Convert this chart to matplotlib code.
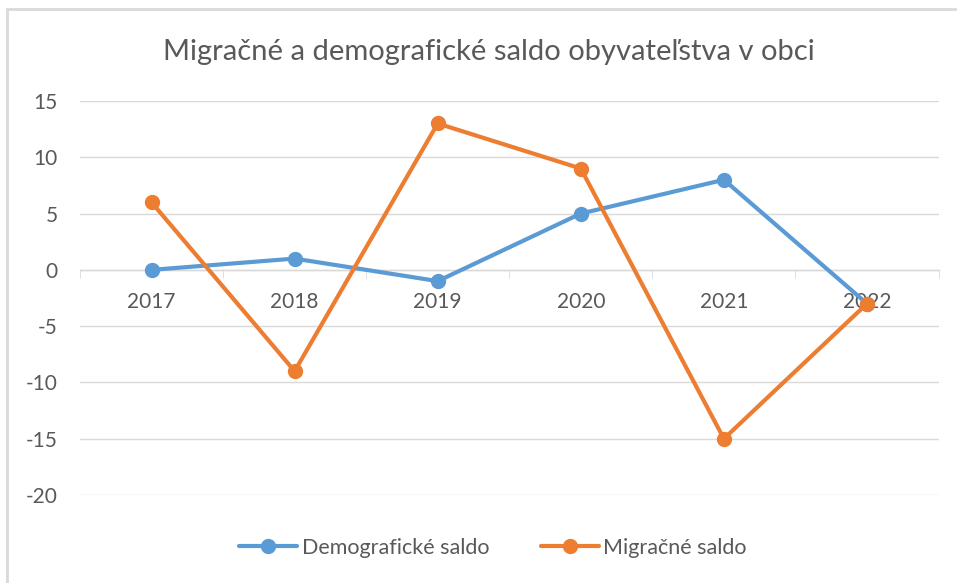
import matplotlib.pyplot as plt
from matplotlib.patches import Rectangle

plt.rcParams['font.family'] = ['Lato', 'DejaVu Sans']
plt.rcParams['axes.unicode_minus'] = False

years = ['2017', '2018', '2019', '2020', '2021', '2022']
demograficke = [0, 1, -1, 5, 8, -3]
migracne = [6, -9, 13, 9, -15, -3]
yticks = [-20, -15, -10, -5, 0, 5, 10, 15]

text_col = '#595959'
grid_col = '#d9d9d9'
blue = '#5B9BD5'
orange = '#ED7D31'

fig = plt.figure(figsize=(9.57, 5.83), dpi=100)
# outer chart frame (only left/top visible in the crop)
fig.patches.append(Rectangle((7 / 957, -0.1), 1.2, 1 - 9 / 583 + 0.1,
                             transform=fig.transFigure, fill=False,
                             edgecolor='#d9d9d9', linewidth=2))

ax = fig.add_axes([0.0836, 0.1509, 0.8971, 0.6759])
x = list(range(len(years)))

ax.plot(x, demograficke, color=blue, linewidth=3, marker='o', markersize=10,
        label='Demografické saldo', zorder=3, solid_capstyle='round')
ax.plot(x, migracne, color=orange, linewidth=3, marker='o', markersize=10,
        label='Migračné saldo', zorder=4, solid_capstyle='round')

ax.set_xlim(-0.5, len(years) - 0.5)
ax.set_ylim(-20, 15)
ax.set_yticks(yticks)
ax.yaxis.grid(True, color=grid_col, linewidth=1)
ax.set_axisbelow(True)

for s in ['top', 'right', 'left']:
    ax.spines[s].set_visible(False)
ax.spines['bottom'].set_position(('data', 0))
ax.spines['bottom'].set_color(grid_col)
ax.spines['bottom'].set_linewidth(1)

ax.set_xticks(x)
ax.set_xticklabels(years)
ax.set_xticks([i - 0.5 for i in range(len(years) + 1)], minor=True)
ax.tick_params(axis='x', which='major', length=0, pad=16, labelsize=15, labelcolor=text_col)
ax.tick_params(axis='x', which='minor', length=6, color=grid_col, direction='out')
ax.tick_params(axis='y', length=0, pad=16, labelsize=15, labelcolor=text_col)

fig.text(0.511, 0.91, 'Migračné a demografické saldo obyvateľstva v obci',
         ha='center', va='center', fontsize=21, color=text_col)

leg = fig.legend(loc='center', bbox_to_anchor=(0.515, 0.06), ncol=2, frameon=False,
                 fontsize=15.5, handlelength=2.7, columnspacing=2.4, handletextpad=0.2)
for t in leg.get_texts():
    t.set_color(text_col)

fig.savefig('out.png', dpi=100)
